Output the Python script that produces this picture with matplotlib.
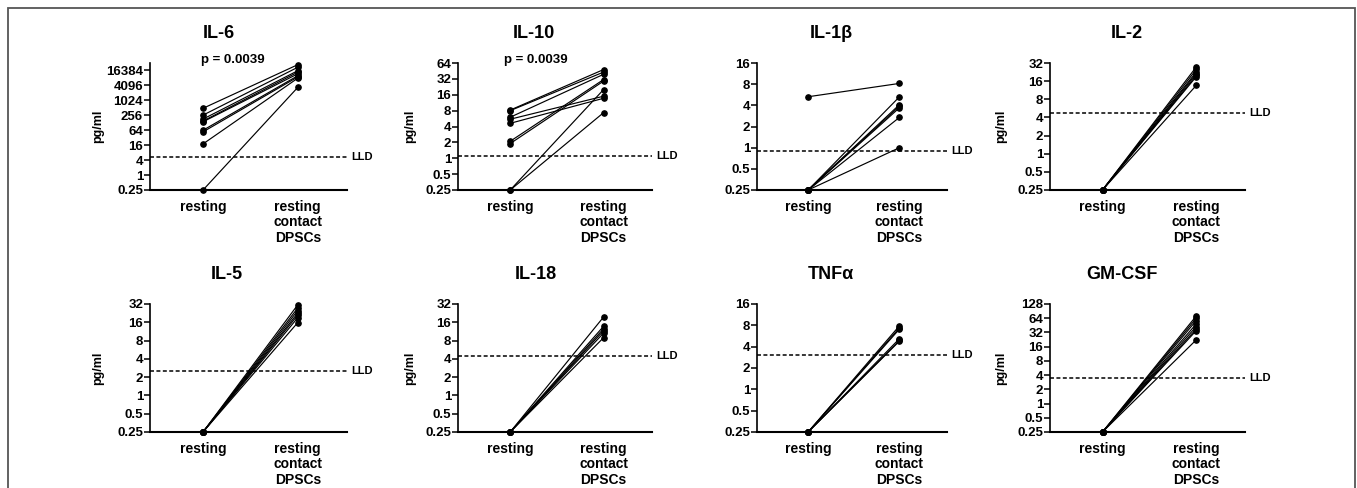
import numpy as np
import matplotlib
matplotlib.use("Agg")
import matplotlib.pyplot as plt
import matplotlib.transforms as mtransforms
from matplotlib.patches import Rectangle

plt.rcParams['font.family'] = ['Liberation Sans', 'DejaVu Sans']
plt.rcParams['font.weight'] = 'bold'

# categories
groups = ["resting", "resting\ncontact\nDPSCs"]

# cytokine names
names = ["IL-6", "IL-10", "IL-1β", "IL-2", "IL-5", "IL-18", "TNFα", "GM-CSF"]

# paired values per donor (pg/ml)
il6_rest = [490, 260, 180, 150, 140, 64, 55, 18, 0.25]
il6_cont = [28000, 22000, 16000, 14000, 12000, 10000, 9000, 8000, 3400]

il10_rest = [8.2, 8.0, 6.0, 5.5, 4.6, 2.1, 1.9, 0.25, 0.25]
il10_cont = [48, 43, 39, 15, 13.7, 31, 29, 20, 7.3]

il1b_rest = [5.3, 0.25, 0.25, 0.25, 0.25, 0.25, 0.25]
il1b_cont = [8.2, 5.3, 4.1, 3.9, 3.7, 2.7, 1.0]

il2_rest = [0.25, 0.25, 0.25, 0.25, 0.25, 0.25, 0.25]
il2_cont = [27.5, 25, 22.7, 21.4, 20, 19, 13.6]

il5_rest = [0.25, 0.25, 0.25, 0.25, 0.25, 0.25, 0.25]
il5_cont = [31, 27.5, 25, 22.7, 21, 19, 15.8]

il18_rest = [0.25, 0.25, 0.25, 0.25, 0.25, 0.25]
il18_cont = [19.5, 13.7, 12.5, 11.6, 10.6, 8.9]

tnf_rest = [0.25, 0.25, 0.25, 0.25, 0.25, 0.25]
tnf_cont = [7.9, 7.4, 7.1, 5.2, 4.9, 4.8]

gm_rest = [0.25, 0.25, 0.25, 0.25, 0.25, 0.25, 0.25, 0.25]
gm_cont = [71.5, 64, 57, 48.5, 42.6, 38, 35, 22.3]

rest_all = [il6_rest, il10_rest, il1b_rest, il2_rest, il5_rest, il18_rest, tnf_rest, gm_rest]
cont_all = [il6_cont, il10_cont, il1b_cont, il2_cont, il5_cont, il18_cont, tnf_cont, gm_cont]

# lower limit of detection
lld = [5.2, 1.12, 0.9, 4.8, 2.5, 4.5, 3.1, 3.5]

# y tick labels
ticks_il6 = [0.25, 1, 4, 16, 64, 256, 1024, 4096, 16384]
ticks_il10 = [0.25, 0.5, 1, 2, 4, 8, 16, 32, 64]
ticks_16 = [0.25, 0.5, 1, 2, 4, 8, 16]
ticks_32 = [0.25, 0.5, 1, 2, 4, 8, 16, 32]
ticks_128 = [0.25, 0.5, 1, 2, 4, 8, 16, 32, 64, 128]
tick_sets = [ticks_il6, ticks_il10, ticks_16, ticks_32, ticks_32, ticks_32, ticks_16, ticks_128]
ytops = [32768, 64, 16, 32, 32, 32, 16, 128]

pvals = ["p = 0.0039", "p = 0.0039", None, None, None, None, None, None]
has_ylabel = [True, True, False, True, True, True, False, True]

W, H = 1357, 488
fig = plt.figure(figsize=(W / 100, H / 100), dpi=100)

# panel geometry in pixels
cols = [(150, 347), (458, 652), (757, 947), (1050, 1245)]
rows = [(63, 190), (304, 432)]
title_x = [0.35, 0.39, 0.39, 0.395, 0.39, 0.40, 0.39, 0.37]
ylab_x = [-0.235, -0.215, -0.22, -0.22, -0.235, -0.215, -0.22, -0.22]
p_x = [0.42, 0.40]

for i in range(8):
    r, c = divmod(i, 4)
    x0, x1 = cols[c]
    y0, y1 = rows[r]
    ax = fig.add_axes([x0 / W, (H - y1) / H, (x1 - x0) / W, (y1 - y0) / H])
    ax.set_yscale('log', base=2)
    ax.set_ylim(0.25, ytops[i])
    ax.set_xlim(-0.56, 1.52)

    for a, b in zip(rest_all[i], cont_all[i]):
        ax.plot([0, 1], [a, b], color='black', lw=0.85, marker='o',
                markersize=3.8, clip_on=False, zorder=3)

    ax.plot([-0.56, 1.52], [lld[i], lld[i]], color='black', lw=1.1,
            linestyle=(0, (2.6, 1.6)), clip_on=False)
    trans = mtransforms.blended_transform_factory(ax.transAxes, ax.transData)
    ax.text(1.02, lld[i], "LLD", transform=trans, fontsize=8,
            fontweight='bold', va='center', ha='left')

    ax.yaxis.set_major_locator(matplotlib.ticker.FixedLocator(tick_sets[i]))
    ax.yaxis.set_minor_locator(matplotlib.ticker.NullLocator())
    ax.set_yticklabels([('%g' % t) for t in tick_sets[i]], fontsize=9.5,
                       fontweight='bold')
    ax.set_xticks([0, 1])
    ax.set_xticklabels(groups, fontsize=10, fontweight='bold', linespacing=1.15)
    ax.tick_params(axis='x', length=0, pad=7)
    ax.tick_params(axis='y', length=4, width=1.1, pad=1)

    for s in ['top', 'right']:
        ax.spines[s].set_visible(False)
    ax.spines['left'].set_linewidth(1.2)
    ax.spines['bottom'].set_linewidth(1.5)

    ax.set_title(names[i], fontsize=13, fontweight='bold', x=title_x[i], pad=18)
    if has_ylabel[i]:
        ax.set_ylabel("pg/ml", fontsize=9, fontweight='bold')
        ax.yaxis.set_label_coords(ylab_x[i], 0.5)
    if pvals[i]:
        ax.text(p_x[i], 1.02, pvals[i], transform=ax.transAxes, fontsize=9.5,
                fontweight='bold', ha='center', va='center')

# outer frame
fig.patches.append(Rectangle((8 / W, -0.1), (1355 - 8) / W, 1.1 - 8 / H,
                             transform=fig.transFigure, fill=False,
                             edgecolor='#555555', lw=1.3))

fig.savefig("out.png", dpi=100)
